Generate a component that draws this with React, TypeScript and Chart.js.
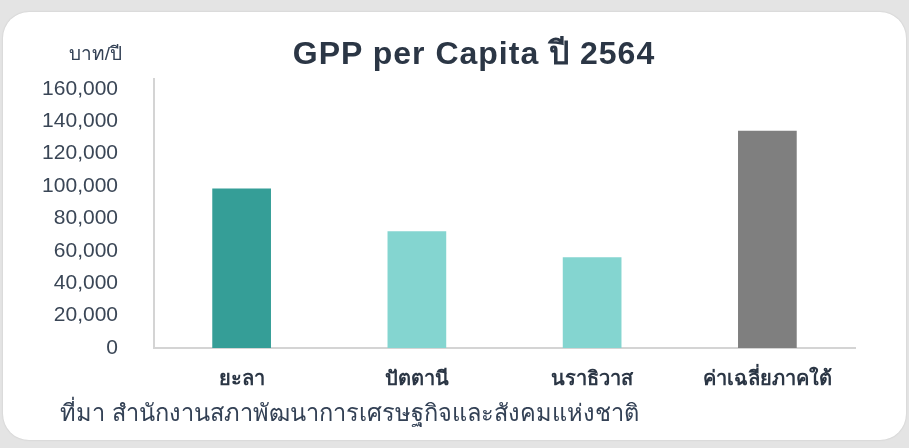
import React, { useEffect, useRef } from "react";
import { Chart, registerables } from "chart.js";

Chart.register(...registerables);

const title = "GPP per Capita ปี 2564";
const unitLabel = "บาท/ปี";
const sourceText = "ที่มา สำนักงานสภาพัฒนาการเศรษฐกิจและสังคมแห่งชาติ";
const categories = ["ยะลา", "ปัตตานี", "นราธิวาส", "ค่าเฉลี่ยภาคใต้"];
const values = [98500, 72000, 56000, 134000];
const barColors = ["#359E97", "#84D5D0", "#84D5D0", "#7F7F7F"];
const yTickValues = [0, 20000, 40000, 60000, 80000, 100000, 120000, 140000, 160000];
const yMax = 166000;

const FONT = "'Liberation Sans', 'Noto Sans', 'DejaVu Sans', sans-serif";
const TEXT = "#334155";

export default function App() {
  const ref = useRef<HTMLCanvasElement | null>(null);

  useEffect(() => {
    const canvas = ref.current;
    if (!canvas) return;
    const chart = new Chart(canvas, {
      type: "bar",
      data: {
        labels: categories,
        datasets: [
          {
            data: values,
            backgroundColor: barColors,
            borderWidth: 0,
            categoryPercentage: 1,
            barPercentage: 0.335,
          },
        ],
      },
      options: {
        responsive: false,
        animation: false,
        devicePixelRatio: 1,
        layout: { padding: { left: 0, right: 54, top: 79, bottom: 60 } },
        plugins: {
          legend: { display: false },
          tooltip: { enabled: false },
          title: { display: false },
        },
        scales: {
          x: {
            grid: { display: false, drawTicks: false },
            border: { display: true, color: "#D4D4D4", width: 2 },
            ticks: {
              color: "#2B3645",
              font: { family: FONT, size: 20, weight: "bold" },
              padding: 19,
              maxRotation: 0,
            },
            afterFit: (s: any) => {
              s.height = 40;
            },
          },
          y: {
            min: 0,
            max: yMax,
            grid: { display: false, drawTicks: false },
            border: { display: true, color: "#D4D4D4", width: 2 },
            ticks: {
              color: "#3A4656",
              font: { family: FONT, size: 21 },
              padding: 36,
              autoSkip: false,
              callback: (v: any) => Number(v).toLocaleString("en-US"),
            },
            afterBuildTicks: (s: any) => {
              s.ticks = yTickValues.map((v) => ({ value: v }));
            },
            afterFit: (s: any) => {
              s.width = 154;
            },
          },
        },
      },
    });
    return () => chart.destroy();
  }, []);

  return (
    <div
      style={{
        position: "fixed",
        left: 0,
        top: 0,
        width: 909,
        height: 448,
        background: "#E4E4E4",
        overflow: "hidden",
      }}
    >
      <div
        style={{
          position: "absolute",
          left: 3,
          top: 12,
          width: 903,
          height: 428,
          background: "#FFFFFF",
          borderRadius: 26,
          boxShadow: "0 0 2px rgba(0,0,0,0.15)",
        }}
      />
      <canvas
        ref={ref}
        width={909}
        height={448}
        style={{ position: "absolute", left: 0, top: 0, width: 909, height: 448 }}
      />
      <div
        style={{
          position: "absolute",
          left: 274,
          width: 400,
          top: 34,
          textAlign: "center",
          fontFamily: FONT,
          fontSize: 32,
          fontWeight: "bold",
          letterSpacing: "1px",
          color: "#2B3645",
          whiteSpace: "nowrap",
          lineHeight: "38px",
        }}
      >
        {title}
      </div>
      <div
        style={{
          position: "absolute",
          right: 909 - 122,
          top: 42,
          fontFamily: FONT,
          fontSize: 19,
          color: TEXT,
          whiteSpace: "nowrap",
          lineHeight: "24px",
        }}
      >
        {unitLabel}
      </div>
      <div
        style={{
          position: "absolute",
          left: 60,
          top: 398,
          fontFamily: FONT,
          fontSize: 23.6,
          color: TEXT,
          whiteSpace: "nowrap",
          lineHeight: "30px",
        }}
      >
        {sourceText}
      </div>
    </div>
  );
}
